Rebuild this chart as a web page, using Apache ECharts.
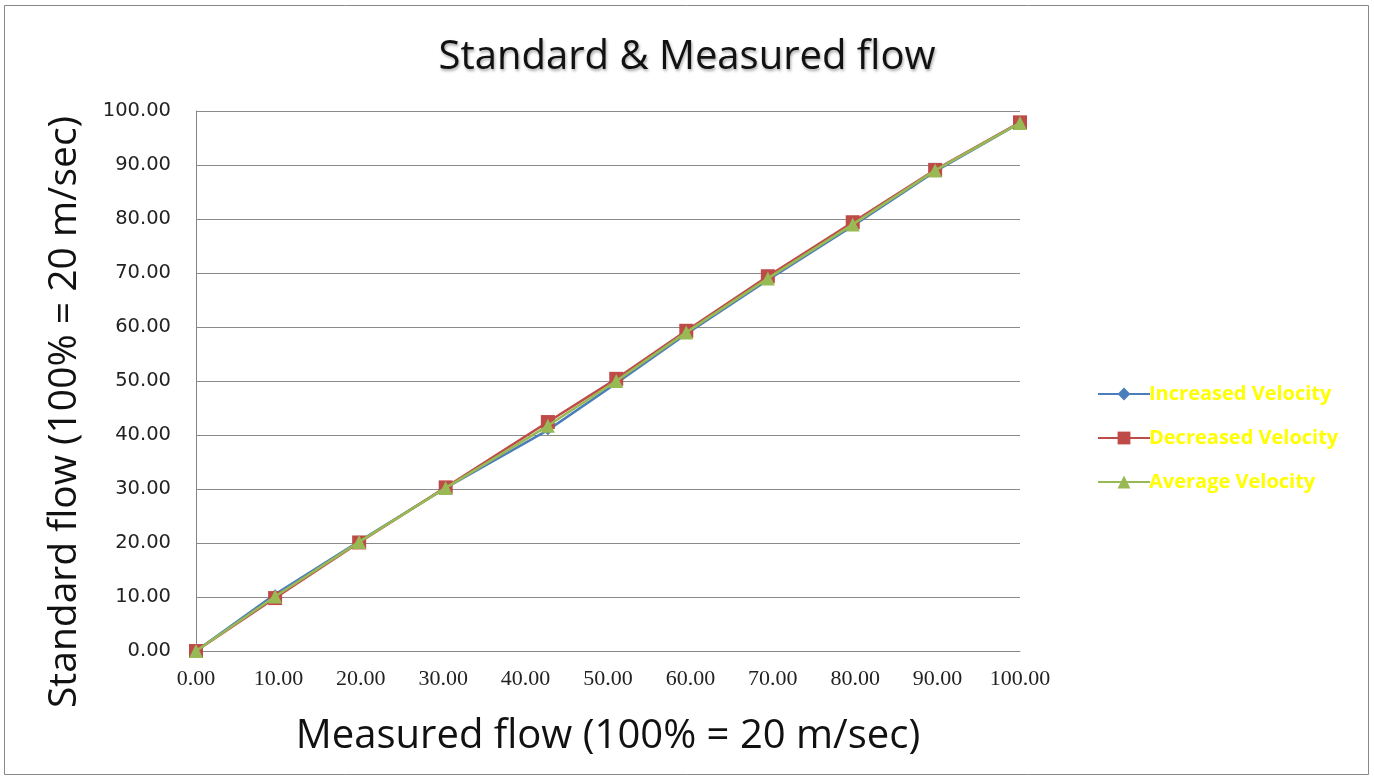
<!DOCTYPE html>
<html><head><meta charset="utf-8">
<script src="https://cdn.jsdelivr.net/npm/echarts@6/dist/echarts.min.js"></script>
<style>html,body{margin:0;padding:0;background:#fff}#c{width:1374px;height:780px}</style>
</head><body><div id="c"></div>
<script>
const measured = [0, 9.6, 19.8, 30.3, 42.7, 51.0, 59.5, 69.4, 79.7, 89.7, 100];
const increased = [0, 10.5, 20.3, 30.2, 40.9, 49.6, 58.7, 68.7, 78.7, 88.8, 97.8];
const decreased = [0, 9.8, 20.1, 30.3, 42.4, 50.4, 59.3, 69.4, 79.4, 89.1, 97.9];
const average = [0, 10.1, 20.2, 30.2, 41.7, 50.0, 59.0, 69.0, 79.0, 89.0, 97.8];
const seriesNames = ['Increased Velocity', 'Decreased Velocity', 'Average Velocity'];
const colors = ['#4A7EBB', '#BE4B48', '#98B954'];
const symbols = ['diamond', 'rect', 'triangle'];
const symbolSizes = [10, 14, 14];
const vals = [increased, decreased, average];

const chart = echarts.init(document.getElementById('c'));
chart.setOption({
  animation: false,
  backgroundColor: '#fff',
  title: {
    text: 'Standard & Measured flow', left: 'center', top: 33,
    textStyle: { fontFamily: 'Open Sans', fontWeight: 'normal', fontSize: 40, color: '#111',
      textShadowColor: 'rgba(0,0,0,0.35)', textShadowBlur: 3, textShadowOffsetX: 1, textShadowOffsetY: 2 }
  },
  graphic: [{ type: 'rect', shape: { x: 4.5, y: 5.5, width: 1364, height: 769 }, style: { fill: 'none', stroke: '#888', lineWidth: 1 } }],
  legend: {
    orient: 'vertical', left: 1092, top: 379, itemGap: 24, itemWidth: 52, itemHeight: 16,
    data: seriesNames,
    textStyle: { color: '#FFFF00', fontFamily: 'Open Sans', fontWeight: 'bold', fontSize: 20, padding: [0,0,0,-6] }
  },
  grid: { left: 196, right: 354, top: 111, bottom: 129 },
  xAxis: {
    type: 'value', min: 0, max: 100, interval: 10,
    name: 'Measured flow (100% = 20 m/sec)', nameLocation: 'middle', nameGap: 66,
    nameTextStyle: { fontFamily: 'Open Sans', fontSize: 40, color: '#111' },
    axisLine: { lineStyle: { color: '#868686' } },
    axisTick: { show: false },
    splitLine: { show: false },
    axisLabel: { fontFamily: 'Liberation Serif', fontSize: 22, color: '#222', margin: 17, formatter: v => v.toFixed(2) }
  },
  yAxis: {
    type: 'value', min: 0, max: 100, interval: 10,
    name: 'Standard flow (100% = 20 m/sec)', nameLocation: 'middle', nameGap: 112,
    nameTextStyle: { fontFamily: 'Open Sans', fontSize: 39, color: '#111', padding: [0, 62, 0, 0] },
    axisLine: { show: true, lineStyle: { color: '#868686' } },
    axisTick: { show: false },
    splitLine: { lineStyle: { color: '#8a8a8a', width: 1 } },
    axisLabel: { fontFamily: 'DejaVu Sans', fontSize: 19.5, color: '#222', margin: 25, formatter: v => v.toFixed(2) }
  },
  series: vals.map((arr, i) => ({
    name: seriesNames[i], type: 'line',
    data: measured.map((x, j) => [x, arr[j]]),
    symbol: symbols[i], symbolSize: symbolSizes[i],
    itemStyle: { color: colors[i] },
    lineStyle: { color: colors[i], width: 2.5 },
    z: 2 + i
  }))
});
</script></body></html>
